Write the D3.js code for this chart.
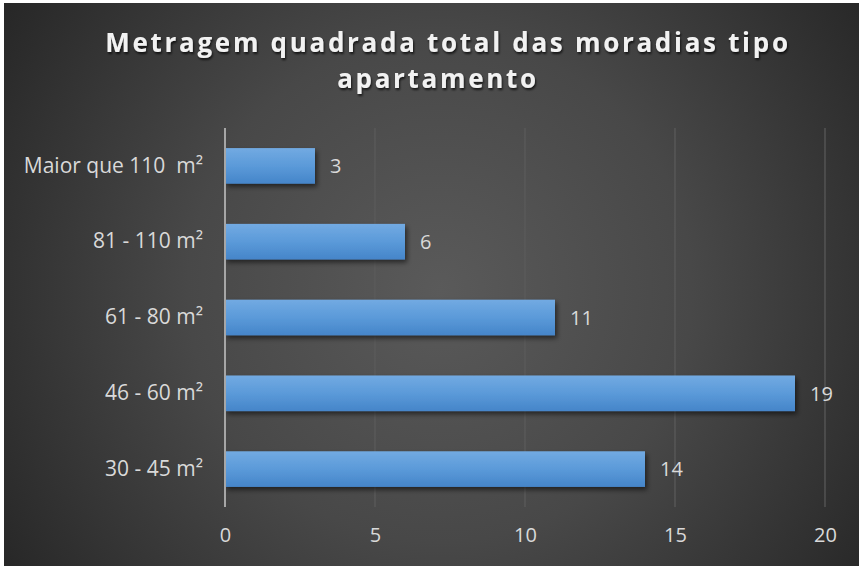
<!DOCTYPE html>
<html>
<head>
<meta charset="utf-8">
<script src="https://cdn.jsdelivr.net/npm/d3@7"></script>
<style>
  html, body { margin: 0; padding: 0; background: #fff; }
  svg { display: block; }
  text { white-space: pre; }
</style>
</head>
<body>
<svg id="chart" width="859" height="566"></svg>
<script>
// data, bottom to top as in the picture
const categories = ["30 - 45 m²", "46 - 60 m²", "61 - 80 m²", "81 - 110 m²", "Maior que 110  m²"];
const values = [14, 19, 11, 6, 3];
const xTicks = [0, 5, 10, 15, 20];
const titleLines = ["Metragem quadrada total das moradias tipo", "apartamento"];

const svg = d3.select("#chart");
const W = 859, H = 566;
const font = "'Open Sans', 'Noto Sans', sans-serif";
const labelSize = 21;

const defs = svg.append("defs");

const bg = defs.append("radialGradient")
  .attr("id", "bg")
  .attr("gradientUnits", "userSpaceOnUse")
  .attr("cx", 440).attr("cy", 290).attr("r", 560);
bg.append("stop").attr("offset", "0%").attr("stop-color", "#5a5a5a");
bg.append("stop").attr("offset", "45%").attr("stop-color", "#484848");
bg.append("stop").attr("offset", "100%").attr("stop-color", "#222222");

const barGrad = defs.append("linearGradient")
  .attr("id", "bar").attr("x1", 0).attr("y1", 0).attr("x2", 0).attr("y2", 1);
barGrad.append("stop").attr("offset", "0%").attr("stop-color", "#72aae2");
barGrad.append("stop").attr("offset", "50%").attr("stop-color", "#5b9ad9");
barGrad.append("stop").attr("offset", "100%").attr("stop-color", "#4585c9");

const shadow = defs.append("filter").attr("id", "shadow")
  .attr("x", "-10%").attr("y", "-30%").attr("width", "130%").attr("height", "180%");
shadow.append("feDropShadow")
  .attr("dx", 2).attr("dy", 3).attr("stdDeviation", 2.5)
  .attr("flood-color", "#000").attr("flood-opacity", 0.55);

const tshadow = defs.append("filter").attr("id", "tshadow");
tshadow.append("feDropShadow")
  .attr("dx", 1).attr("dy", 2).attr("stdDeviation", 1.2)
  .attr("flood-color", "#000").attr("flood-opacity", 0.7);

// chart area (thin white page margin remains top and left)
svg.append("rect")
  .attr("x", 4).attr("y", 3)
  .attr("width", W - 4).attr("height", H - 3)
  .attr("fill", "url(#bg)");

const margin = { top: 128, right: 34, bottom: 59, left: 225 };

const x = d3.scaleLinear()
  .domain([0, 20])
  .range([margin.left, W - margin.right]);

const y = d3.scaleBand()
  .domain(categories)
  .range([H - margin.bottom, margin.top])
  .paddingInner(0.53)
  .paddingOuter(0.265);

// gridlines
svg.append("g")
  .selectAll("line")
  .data(xTicks.slice(1))
  .join("line")
  .attr("x1", d => x(d)).attr("x2", d => x(d))
  .attr("y1", margin.top).attr("y2", H - margin.bottom)
  .attr("stroke", "#5c5c5c")
  .attr("stroke-width", 1.2);

// bars
svg.append("g")
  .selectAll("rect")
  .data(categories)
  .join("rect")
  .attr("x", x(0))
  .attr("y", d => y(d))
  .attr("width", (d, i) => x(values[i]) - x(0))
  .attr("height", y.bandwidth())
  .attr("fill", "url(#bar)")
  .attr("filter", "url(#shadow)");

// category axis line
svg.append("line")
  .attr("x1", x(0)).attr("x2", x(0))
  .attr("y1", margin.top).attr("y2", H - margin.bottom)
  .attr("stroke", "#a6a6a6")
  .attr("stroke-width", 2);

// value labels
svg.append("g")
  .selectAll("text")
  .data(categories)
  .join("text")
  .attr("x", (d, i) => x(values[i]) + 15)
  .attr("y", d => y(d) + y.bandwidth() / 2)
  .attr("dy", "0.36em")
  .attr("fill", "#d9d9d9")
  .attr("font-family", font)
  .attr("font-size", labelSize - 1)
  .text((d, i) => values[i]);

// y axis labels
const yAxis = svg.append("g")
  .attr("transform", `translate(${x(0)},0)`)
  .call(d3.axisLeft(y).tickSize(0).tickPadding(22));
yAxis.select(".domain").remove();
yAxis.selectAll("text")
  .attr("fill", "#d9d9d9")
  .attr("font-family", font)
  .attr("font-size", labelSize);

// x axis labels
const xAxis = svg.append("g")
  .attr("transform", `translate(0,${H - margin.bottom})`)
  .call(d3.axisBottom(x).tickValues(xTicks).tickSize(0).tickPadding(21));
xAxis.select(".domain").remove();
xAxis.selectAll("text")
  .attr("fill", "#d9d9d9")
  .attr("font-family", font)
  .attr("font-size", labelSize - 1);

// title (second line sits a little left, as in the original)
svg.append("g")
  .selectAll("text")
  .data(titleLines)
  .join("text")
  .attr("x", (d, i) => (i === 0 ? 448 : 438))
  .attr("y", (d, i) => 52 + i * 36)
  .attr("text-anchor", "middle")
  .attr("fill", "#f2f2f2")
  .attr("font-family", font)
  .attr("font-weight", "bold")
  .attr("font-size", 26)
  .attr("letter-spacing", 2.7)
  .attr("filter", "url(#tshadow)")
  .text(d => d);
</script>
</body>
</html>
